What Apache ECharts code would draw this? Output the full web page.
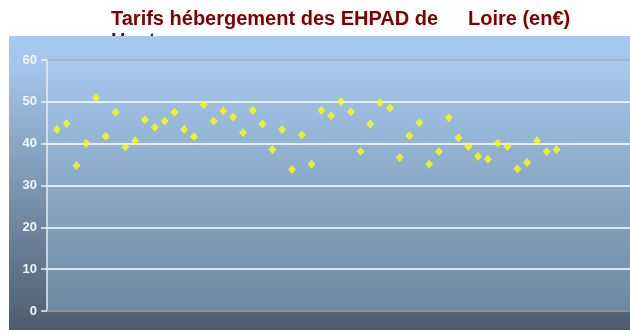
<!DOCTYPE html>
<html>
<head>
<meta charset="utf-8">
<script src="https://cdn.jsdelivr.net/npm/echarts@6/dist/echarts.min.js"></script>
<style>
  html, body { margin: 0; padding: 0; background: #ffffff; }
  #chart { width: 630px; height: 330px; }
</style>
</head>
<body>
<div id="chart"></div>
<script>
// Tarif hébergement journalier (€) par établissement, dans l'ordre de la liste
const tarifs = [
  43.4, 44.8, 34.8, 40.1, 51.0, 41.8, 47.5, 39.2, 40.7, 45.7,
  43.9, 45.4, 47.5, 43.4, 41.7, 49.3, 45.4, 47.8, 46.4, 42.6,
  48.0, 44.7, 38.6, 43.4, 33.8, 42.1, 35.1, 47.9, 46.7, 50.0,
  47.6, 38.1, 44.7, 49.8, 48.5, 36.7, 41.9, 45.0, 35.1, 38.1,
  46.2, 41.4, 39.3, 37.0, 36.3, 40.1, 39.3, 34.0, 35.5, 40.7,
  38.1, 38.6
];
const yTicks = [0, 10, 20, 30, 40, 50, 60];
const titreDebut = 'Tarifs hébergement des EHPAD de';
const titreFin = 'Loire (en€)';
const titreLigne2 = 'Haute-';

// points (rang de l'établissement, tarif)
const points = tarifs.map((v, i) => [i + 1, v]);

const chart = echarts.init(document.getElementById('chart'), null, { renderer: 'canvas' });
const titleFont = 'bold 20px "Liberation Sans", Arial, sans-serif';

chart.setOption({
  animation: false,
  backgroundColor: '#ffffff',
  graphic: [
    {
      type: 'text', z: -30, left: 111, top: 31,
      style: { text: titreLigne2, font: titleFont, fill: '#800000' }
    },
    {
      type: 'rect', z: -20, shape: { x: 9, y: 36, width: 621, height: 294 },
      style: {
        fill: new echarts.graphic.LinearGradient(0, 0, 0, 1, [
          { offset: 0, color: '#a7c9ef' },
          { offset: 0.1, color: '#a4c6ec' },
          { offset: 1, color: '#4d5c6c' }
        ])
      }
    },
    {
      type: 'text', z: 10, left: 111, top: 9,
      style: { text: titreDebut, font: titleFont, fill: '#800000' }
    },
    {
      type: 'text', z: 10, left: 468, top: 9,
      style: { text: titreFin, font: titleFont, fill: '#800000' }
    }
  ],
  grid: {
    left: 47, right: 0, top: 60, bottom: 19,
    show: true,
    borderWidth: 0,
    backgroundColor: new echarts.graphic.LinearGradient(0, 0, 0, 1, [
      { offset: 0, color: '#a7c9ef' },
      { offset: 1, color: '#6d889f' }
    ])
  },
  xAxis: {
    type: 'value', min: 0, max: 59.5,
    axisLabel: { show: false }, axisTick: { show: false },
    splitLine: { show: false },
    axisLine: { show: true, lineStyle: { color: '#8d9197', width: 2 } }
  },
  yAxis: {
    type: 'value', min: yTicks[0], max: yTicks[yTicks.length - 1], interval: 10,
    axisLine: { show: true, lineStyle: { color: '#e6edf5', width: 1.5 } },
    axisTick: { show: true, length: 6, lineStyle: { color: '#eef3f8', width: 1.5 } },
    axisLabel: {
      color: '#f2f6fa', fontSize: 13, fontWeight: 'bold',
      fontFamily: '"Liberation Sans", Arial, sans-serif', margin: 10
    },
    splitLine: {
      show: true,
      lineStyle: {
        color: ['#8d9197', '#ffffff', '#ffffff', '#ffffff', '#ffffff', '#ffffff', '#a3abb6'],
        width: 1.5
      }
    }
  },
  series: [{
    type: 'scatter',
    data: points,
    symbol: 'diamond',
    symbolSize: [8, 9],
    itemStyle: { color: '#ffff00' },
    z: 5
  }]
});
</script>
</body>
</html>
